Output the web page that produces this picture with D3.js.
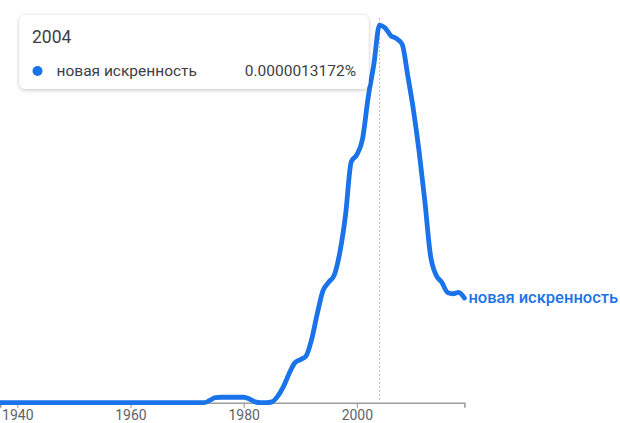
<!DOCTYPE html>
<html>
<head>
<meta charset="utf-8">
<script src="https://cdn.jsdelivr.net/npm/d3@7"></script>
<style>
  html, body { margin: 0; padding: 0; background: #fff; }
  svg { display: block; font-family: Roboto, "Noto Sans", sans-serif; }
</style>
</head>
<body>
<svg id="chart" width="620" height="423"></svg>
<script>
// ---- data ----
const seriesName = "новая искренность";
const years = [1936,1937,1938,1939,1940,1941,1942,1943,1944,1945,1946,1947,1948,1949,
  1950,1951,1952,1953,1954,1955,1956,1957,1958,1959,1960,1961,1962,1963,1964,1965,1966,1967,1968,1969,
  1970,1971,1972,1973,1974,1975,1976,1977,1978,1979,1980,1981,1982,1983,1984,1985,1986,1987,1988,1989,
  1990,1991,1992,1993,1994,1995,1996,1997,1998,1999,2000,2001,2002,2003,2004,2005,2006,2007,2008,2009,
  2010,2011,2012,2013,2014,2015,2016,2017,2018,2019];
// values in units of 1e-6 %
const values = [0,0,0,0,0,0,0,0,0,0,0,0,0,0,
  0,0,0,0,0,0,0,0,0,0,0,0,0,0,0,0,0,0,0,0,
  0,0,0,0,0.008,0.018,0.019,0.019,0.019,0.019,0.019,0.013,0.003,0,0,0.003,0.022,0.055,0.10,0.138,
  0.15,0.162,0.22,0.31,0.39,0.42,0.445,0.525,0.655,0.84,0.865,0.92,1.065,1.18,1.3172,1.307,1.28,1.27,1.25,1.14,
  1.02,0.875,0.705,0.515,0.445,0.42,0.385,0.38,0.385,0.365];
const tickYears = [1940, 1960, 1980, 2000];
const hoverYear = 2004;
const hoverLabel = "0.0000013172%";

// ---- layout ----
const svg = d3.select("#chart");
const x = d3.scaleLinear().domain([1937, 2019]).range([0.3, 464.4]);
const y = d3.scaleLinear().domain([0, 1.4045]).range([402.7, 0]);
const blue = "#1a73e8";

const defs = svg.append("defs");
const f = defs.append("filter").attr("id", "shadow").attr("x", "-10%").attr("y", "-30%").attr("width", "120%").attr("height", "170%");
f.append("feDropShadow").attr("dx", 0).attr("dy", 1).attr("stdDeviation", 2).attr("flood-color", "#000").attr("flood-opacity", 0.25);

// axis
const axis = d3.axisBottom(x).tickValues(tickYears).tickFormat(d3.format("d")).tickSize(5).tickPadding(2.5);
const gAxis = svg.append("g").attr("transform", `translate(0,${y(0)})`).call(axis);
gAxis.select(".domain").attr("stroke", "#9e9e9e").attr("stroke-width", 1.6);
gAxis.selectAll(".tick line").attr("stroke", "#9e9e9e").attr("stroke-width", 1.2);
gAxis.selectAll(".tick text").attr("fill", "#5f6368").attr("font-size", 14)
  .attr("font-family", "Roboto, sans-serif");

// hover line
svg.append("line")
  .attr("x1", x(hoverYear)).attr("x2", x(hoverYear))
  .attr("y1", 18).attr("y2", y(0))
  .attr("stroke", "#bdbdbd").attr("stroke-width", 1).attr("stroke-dasharray", "2,2");

// line
const data = years.map((yr, i) => ({ yr, v: values[i] }));
const line = d3.line().x(d => x(d.yr)).y(d => y(d.v)).curve(d3.curveMonotoneX);
svg.append("path").datum(data)
  .attr("d", line)
  .attr("fill", "none").attr("stroke", blue).attr("stroke-width", 4.8)
  .attr("stroke-linejoin", "round").attr("stroke-linecap", "round");

// end label
const last = data[data.length - 1];
svg.append("text")
  .attr("x", x(last.yr) + 4).attr("y", y(last.v) + 5)
  .attr("fill", blue).attr("font-size", 16.5).attr("font-weight", 500)
  .text(seriesName);

// tooltip
const tip = svg.append("g");
tip.append("rect").attr("x", 19.5).attr("y", 15).attr("width", 349).attr("height", 74)
  .attr("rx", 6).attr("fill", "#fff").attr("filter", "url(#shadow)");
tip.append("text").attr("x", 32).attr("y", 43).attr("font-size", 17.5).attr("fill", "#3c4043").text(hoverYear);
tip.append("circle").attr("cx", 37.5).attr("cy", 71).attr("r", 5).attr("fill", blue);
tip.append("text").attr("x", 56.5).attr("y", 76).attr("font-size", 15.5).attr("fill", "#3c4043").text(seriesName);
tip.append("text").attr("x", 356).attr("y", 76).attr("font-size", 15.5).attr("fill", "#3c4043")
  .attr("text-anchor", "end").text(hoverLabel);
</script>
</body>
</html>
